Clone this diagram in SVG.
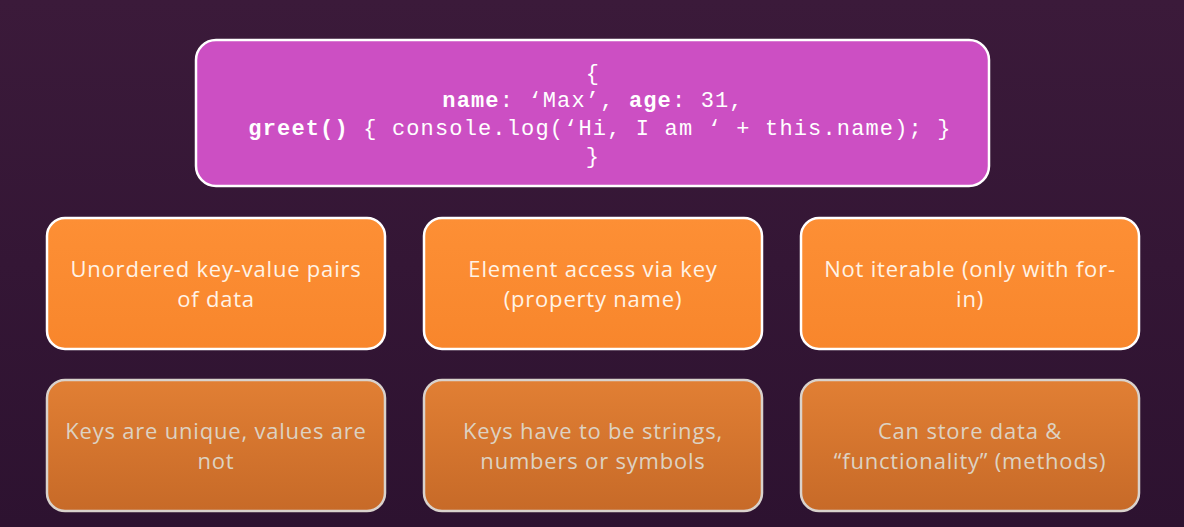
<svg xmlns="http://www.w3.org/2000/svg" width="1184" height="527" viewBox="0 0 1184 527">
<defs>
<linearGradient id="bg" x1="0" y1="0" x2="0" y2="1">
<stop offset="0" stop-color="#3b1a3a"/>
<stop offset="1" stop-color="#2d1230"/>
</linearGradient>
<linearGradient id="or1" x1="0" y1="0" x2="0" y2="1">
<stop offset="0" stop-color="#fd8f35"/>
<stop offset="1" stop-color="#f8862c"/>
</linearGradient>
<linearGradient id="or2" x1="0" y1="0" x2="0" y2="1">
<stop offset="0" stop-color="#e17f34"/>
<stop offset="1" stop-color="#c76a28"/>
</linearGradient>
<style>
.top{fill:#cc4fc3;stroke:#ffffff;stroke-width:2.5}
.b1{fill:url(#or1);stroke:#ffffff;stroke-width:2.5}
.b2{fill:url(#or2);stroke:#d9d2cc;stroke-width:2.5}
.code{font-family:"Liberation Mono","DejaVu Sans Mono",monospace;font-size:22px;letter-spacing:1.15px;fill:#ffffff;text-anchor:middle}
.k{font-weight:bold}
.t1{font-family:"Open Sans",Lato,sans-serif;font-size:22px;letter-spacing:0.8px;fill:#fff3e6;text-anchor:middle}
.t2{font-family:"Open Sans",Lato,sans-serif;font-size:22px;letter-spacing:0.8px;fill:#ddd2c2;text-anchor:middle}
</style>
</defs>
<rect width="1184" height="527" fill="url(#bg)"/>
<g id="object">
<rect class="top" x="196" y="40" width="793" height="146" rx="20"/>
<text class="code" x="593" y="80">{</text>
<text class="code" x="593" y="107"><tspan class="k">name</tspan>: ‘Max’, <tspan class="k">age</tspan>: 31,</text>
<text class="code" x="600" y="135"><tspan class="k">greet()</tspan> { console.log(‘Hi, I am ‘ + this.name); }</text>
<text class="code" x="593" y="163">}</text>
</g>
<g id="unordered">
<rect class="b1" x="47" y="218" width="338" height="131" rx="18"/>
<text class="t1" x="216" y="277">Unordered key-value pairs</text>
<text class="t1" x="216" y="307">of data</text>
</g>
<g id="access">
<rect class="b1" x="424" y="218" width="338" height="131" rx="18"/>
<text class="t1" x="593" y="277">Element access via key</text>
<text class="t1" x="593" y="307">(property name)</text>
</g>
<g id="iterable">
<rect class="b1" x="801" y="218" width="338" height="131" rx="18"/>
<text class="t1" x="970" y="277">Not iterable (only with for-</text>
<text class="t1" x="970" y="307">in)</text>
</g>
<g id="keys-unique">
<rect class="b2" x="47" y="380" width="338" height="131" rx="18"/>
<text class="t2" x="216" y="439">Keys are unique, values are</text>
<text class="t2" x="216" y="469">not</text>
</g>
<g id="keys-types">
<rect class="b2" x="424" y="380" width="338" height="131" rx="18"/>
<text class="t2" x="593" y="439">Keys have to be strings,</text>
<text class="t2" x="593" y="469">numbers or symbols</text>
</g>
<g id="functionality">
<rect class="b2" x="801" y="380" width="338" height="131" rx="18"/>
<text class="t2" x="970" y="439">Can store data &amp;</text>
<text class="t2" x="970" y="469">“functionality” (methods)</text>
</g>
<g id="connectors"/>
</svg>
